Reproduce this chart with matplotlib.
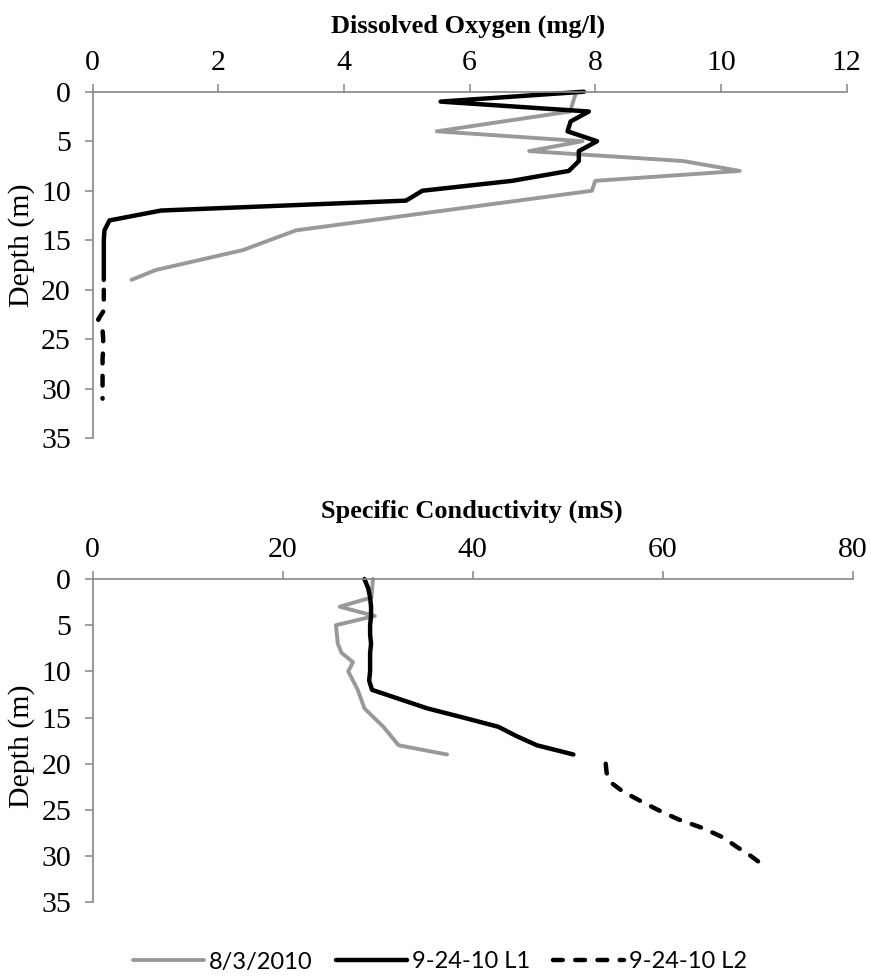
import matplotlib
matplotlib.use('Agg')
import matplotlib.pyplot as plt
from matplotlib.lines import Line2D

# ---------------- data ----------------
do_gray_depth = [0, 1, 2, 4, 5, 6, 7, 8, 9, 10, 14, 16, 18, 19]
do_gray = [7.70, 7.65, 7.60, 5.48, 7.80, 6.95, 9.40, 10.30, 8.00, 7.95, 3.24, 2.39, 1.01, 0.62]

do_l1_depth = list(range(0, 20))
do_l1 = [7.82, 5.54, 7.90, 7.61, 7.56, 8.03, 7.74, 7.74, 7.58, 6.68,
         5.25, 4.99, 1.09, 0.27, 0.19, 0.18, 0.18, 0.18, 0.18, 0.18]

do_l2_depth = list(range(20, 32))
do_l2 = [0.18, 0.18, 0.19, 0.09, 0.16, 0.17, 0.17, 0.16, 0.16, 0.16, 0.16, 0.16]

sc_gray_depth = [0, 2, 3, 4, 5, 7, 8, 9, 10, 12, 14, 16, 18, 19]
sc_gray = [29.5, 29.35, 26.0, 29.7, 25.6, 25.8, 26.2, 27.4, 26.9, 27.9, 28.6, 30.6, 32.2, 37.3]

sc_l1_depth = list(range(0, 20))
sc_l1 = [28.6, 29.0, 29.2, 29.3, 29.3, 29.2, 29.2, 29.3, 29.2, 29.2,
         29.2, 29.1, 29.4, 32.3, 35.2, 39.0, 42.7, 44.6, 46.75, 50.6]

sc_l2_depth = list(range(20, 32))
sc_l2 = [54.0, 54.1, 54.5, 55.8, 57.6, 59.5, 61.6, 64.3, 66.4, 67.8, 69.3, 70.6]

labels = ['8/3/2010', '9-24-10 L1', '9-24-10 L2']
titles = ['Dissolved Oxygen (mg/l)', 'Specific Conductivity (mS)']
ylabel = 'Depth (m)'
depth_ticks = list(range(0, 36, 5))

# ---------------- style ----------------
plt.rcParams['font.family'] = ['Liberation Serif', 'DejaVu Serif']
W, H = 871, 976
fig = plt.figure(figsize=(W / 100, H / 100), dpi=100)
axc = '#868686'
gray = '#999999'
lw_g = 2.8
lw_b = 3.2
tick_fs = 21.5


def px_axes(l, r, t, b):
    return fig.add_axes([l / W, 1 - b / H, (r - l) / W, (b - t) / H])


def style(ax, xmax, xstep):
    ax.set_xlim(0, xmax)
    ax.set_ylim(35, 0)
    ax.set_xticks(list(range(0, xmax + 1, xstep)))
    ax.set_yticks(depth_ticks)
    ax.xaxis.tick_top()
    ax.xaxis.set_label_position('top')
    for s in ['bottom', 'right']:
        ax.spines[s].set_visible(False)
    for s in ['top', 'left']:
        ax.spines[s].set_color(axc)
        ax.spines[s].set_linewidth(1.2)
    ax.tick_params(direction='out', length=5.5, width=1.1, color=axc,
                   labelsize=tick_fs)
    ax.tick_params(axis='x', pad=6)
    ax.tick_params(axis='y', pad=10)
    ax.patch.set_alpha(0)


def draw(ax, gx, gy, l1x, l1y, l2x, l2y):
    ax.plot(gx, gy, color=gray, lw=lw_g, solid_joinstyle='round',
            solid_capstyle='round', clip_on=False)
    ax.plot(l1x, l1y, color='black', lw=lw_b, solid_joinstyle='round',
            solid_capstyle='round', clip_on=False)
    ax.plot(l2x, l2y, color='black', lw=lw_b, dashes=(2.2, 2.8),
            dash_capstyle='round', dash_joinstyle='round', clip_on=False)


ax1 = px_axes(92.5, 846.5, 91.7, 438.3)
style(ax1, 12, 2)
draw(ax1, do_gray, do_gray_depth, do_l1, do_l1_depth, do_l2, do_l2_depth)

ax2 = px_axes(92.7, 852.7, 579, 902.3)
style(ax2, 80, 20)
draw(ax2, sc_gray, sc_gray_depth, sc_l1, sc_l1_depth, sc_l2, sc_l2_depth)

fig.text(468 / W, 1 - 33 / H, titles[0], ha='center', va='baseline',
         fontsize=19, fontweight='bold')
fig.text(472 / W, 1 - 518 / H, titles[1], ha='center', va='baseline',
         fontsize=19, fontweight='bold')

fig.text(22 / W, 1 - 245 / H, ylabel, ha='center', va='center',
         rotation=90, fontsize=tick_fs)
fig.text(22 / W, 1 - 746 / H, ylabel, ha='center', va='center',
         rotation=90, fontsize=tick_fs)

handles = [
    Line2D([], [], color=gray, lw=lw_g, solid_capstyle='round'),
    Line2D([], [], color='black', lw=lw_b, solid_capstyle='round'),
    Line2D([], [], color='black', lw=lw_b, dashes=(2.2, 2.8), dash_capstyle='round'),
]
fig.legend(handles, labels, loc='center', bbox_to_anchor=(440 / W, 1 - 962 / H),
           ncol=3, frameon=False, handlelength=3.0, handletextpad=0.2,
           columnspacing=1.0, borderpad=0, borderaxespad=0,
           prop={'family': ['Lato', 'DejaVu Sans'], 'size': 17})

fig.savefig('out.png', dpi=100)
